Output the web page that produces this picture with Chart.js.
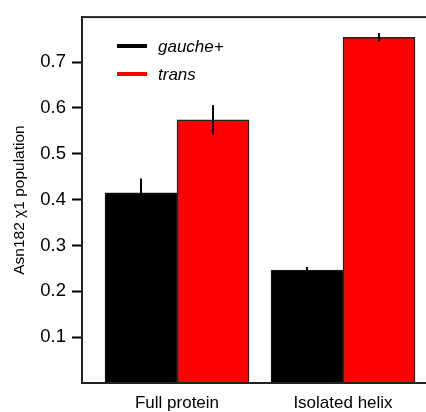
<!DOCTYPE html>
<html>
<head>
<meta charset="utf-8">
<script src="https://cdn.jsdelivr.net/npm/chart.js@4.4.1/dist/chart.umd.min.js"></script>
<style>
  html, body { margin: 0; padding: 0; background: #fff; overflow: hidden; }
  #wrap { width: 460px; height: 412px; }
</style>
</head>
<body>
<div id="wrap"><canvas id="chart" width="460" height="412"></canvas></div>
<script>
// categories and values
var categories = ['Full protein', 'Isolated helix'];
var gaucheValues = [0.415, 0.246];
var gaucheErrors = [0.031, 0.007];
var transValues = [0.574, 0.754];
var transErrors = [0.032, 0.009];
var yTicks = [0.1, 0.2, 0.3, 0.4, 0.5, 0.6, 0.7];

var FONT = '"Liberation Sans", Arial, sans-serif';

function points(values) {
    return values.map(function(v, i) { return {x: i + 1, y: v}; });
}

// error bars drawn through the scales
var errorBars = {
    id: 'errorBars',
    afterDatasetsDraw: function(chart) {
        var ctx = chart.ctx;
        var ys = chart.scales.y;
        ctx.save();
        ctx.strokeStyle = '#000';
        ctx.lineWidth = 2;
        chart.data.datasets.forEach(function(ds, di) {
            var meta = chart.getDatasetMeta(di);
            meta.data.forEach(function(bar, i) {
                var v = ds.data[i].y, e = ds.errors[i];
                ctx.beginPath();
                ctx.moveTo(bar.x, ys.getPixelForValue(v - e));
                ctx.lineTo(bar.x, ys.getPixelForValue(v + e));
                ctx.stroke();
            });
        });
        ctx.restore();
    }
};

// frame around plot + legend inside the plot
var frameAndLegend = {
    id: 'frameAndLegend',
    afterDraw: function(chart) {
        var ctx = chart.ctx;
        var a = chart.chartArea;
        ctx.save();
        ctx.strokeStyle = '#222';
        ctx.lineWidth = 2;
        ctx.strokeRect(a.left, a.top, a.right - a.left, a.bottom - a.top);

        var ly = [46, 74];
        chart.data.datasets.forEach(function(ds, i) {
            ctx.strokeStyle = ds.backgroundColor;
            ctx.lineWidth = 4;
            ctx.beginPath();
            ctx.moveTo(117, ly[i]);
            ctx.lineTo(147, ly[i]);
            ctx.stroke();
            ctx.fillStyle = '#000';
            ctx.font = 'italic 17px ' + FONT;
            ctx.textBaseline = 'middle';
            ctx.fillText(ds.label, 158, ly[i] + 1);
        });
        ctx.restore();
    }
};

var ctx = document.getElementById('chart').getContext('2d');
var chart = new Chart(ctx, {
    type: 'bar',
    data: {
        datasets: [{
            label: 'gauche+',
            data: points(gaucheValues),
            errors: gaucheErrors,
            backgroundColor: '#000000',
            borderColor: '#222',
            borderWidth: 1
        }, {
            label: 'trans',
            data: points(transValues),
            errors: transErrors,
            backgroundColor: '#ff0000',
            borderColor: '#222',
            borderWidth: 1.5
        }]
    },
    options: {
        responsive: false,
        animation: false,
        barThickness: 72,
        layout: { padding: { left: 0, right: 10, top: 16, bottom: 0 } },
        plugins: { legend: { display: false }, tooltip: { enabled: false } },
        scales: {
            x: {
                type: 'linear',
                min: 0.4277,
                max: 2.6446,
                offset: false,
                grid: { display: false, drawTicks: false, offset: false },
                border: { display: false },
                afterBuildTicks: function(axis) {
                    axis.ticks = categories.map(function(c, i) { return {value: i + 1}; });
                },
                afterFit: function(axis) { axis.height = 29; },
                ticks: {
                    padding: 10,
                    maxRotation: 0,
                    color: '#000',
                    font: { family: FONT, size: 17 },
                    callback: function(v) { return categories[v - 1]; }
                }
            },
            y: {
                min: 0,
                max: 0.798,
                afterBuildTicks: function(axis) {
                    axis.ticks = yTicks.map(function(v) { return {value: v}; });
                },
                afterFit: function(axis) { axis.width = 82; },
                grid: {
                    drawOnChartArea: false,
                    tickLength: 10,
                    tickColor: '#000',
                    tickWidth: 2
                },
                border: { display: true, color: '#222', width: 2 },
                ticks: {
                    padding: 6,
                    color: '#000',
                    font: { family: FONT, size: 18.5 },
                    callback: function(v) { return v.toFixed(1); }
                },
                title: {
                    display: true,
                    text: 'Asn182 \u03c71 population',
                    color: '#000',
                    font: { family: FONT, size: 15.5 },
                    padding: { top: 10, bottom: 0 }
                }
            }
        }
    },
    plugins: [errorBars, frameAndLegend]
});
</script>
</body>
</html>
